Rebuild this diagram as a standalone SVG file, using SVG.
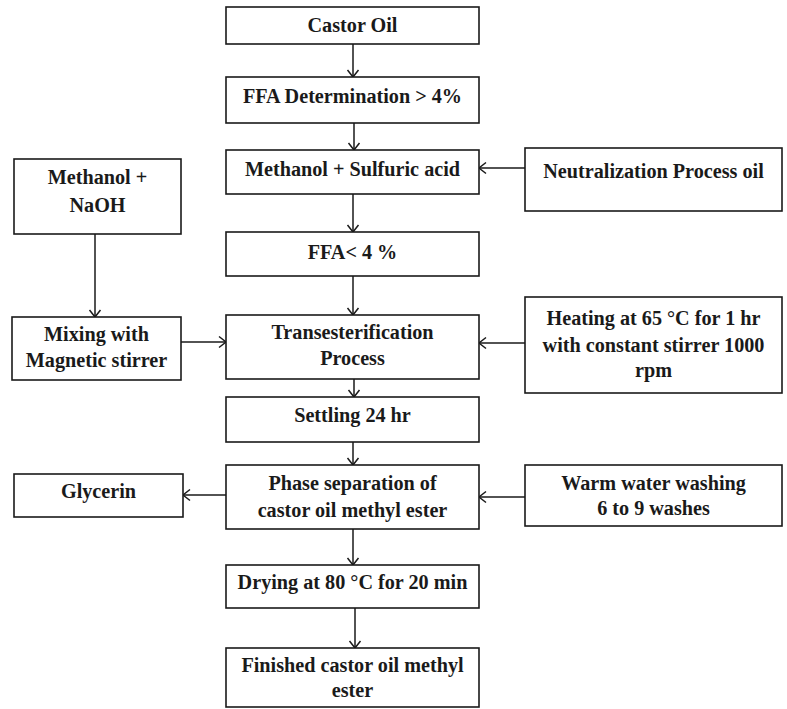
<svg xmlns="http://www.w3.org/2000/svg" width="787" height="709" viewBox="0 0 787 709">
<style>
.box{fill:#fff;stroke:#1a1a1a;stroke-width:1.6}
.t{font-family:"Liberation Serif","Times New Roman",serif;font-weight:bold;font-size:20.2px;fill:#1a1a1a;text-anchor:middle}
.c{fill:none;stroke:#1a1a1a;stroke-width:1.5}
</style>
<defs>
<marker id="ah" markerUnits="userSpaceOnUse" markerWidth="14" markerHeight="14" viewBox="0 0 14 14" refX="12" refY="7" orient="auto">
<path d="M5,1.5 L12,7 L5,12.5" fill="none" stroke="#1a1a1a" stroke-width="1.5"/>
</marker>
</defs>
<rect width="787" height="709" fill="#fff"/>
<g id="connectors">
<line class="c" x1="353" y1="44" x2="353" y2="77" marker-end="url(#ah)"/>
<line class="c" x1="354" y1="123" x2="354" y2="150" marker-end="url(#ah)"/>
<line class="c" x1="353" y1="194" x2="353" y2="232" marker-end="url(#ah)"/>
<line class="c" x1="525" y1="168" x2="479" y2="168" marker-end="url(#ah)"/>
<line class="c" x1="353" y1="276" x2="353" y2="315" marker-end="url(#ah)"/>
<line class="c" x1="95" y1="234" x2="95" y2="317" marker-end="url(#ah)"/>
<line class="c" x1="181" y1="342" x2="226" y2="342" marker-end="url(#ah)"/>
<line class="c" x1="525" y1="343" x2="479" y2="343" marker-end="url(#ah)"/>
<line class="c" x1="354" y1="379" x2="354" y2="397" marker-end="url(#ah)"/>
<line class="c" x1="353" y1="442" x2="353" y2="465" marker-end="url(#ah)"/>
<line class="c" x1="226" y1="495" x2="183" y2="495" marker-end="url(#ah)"/>
<line class="c" x1="525" y1="497" x2="479" y2="497" marker-end="url(#ah)"/>
<line class="c" x1="353" y1="529" x2="353" y2="565" marker-end="url(#ah)"/>
<line class="c" x1="355" y1="608" x2="355" y2="648" marker-end="url(#ah)"/>
</g>
<g id="castor-oil"><rect class="box" x="226" y="7" width="253" height="37"/><text class="t" x="352.5" y="32">Castor Oil</text></g>
<g id="ffa-determination"><rect class="box" x="226" y="77" width="253" height="46"/><text class="t" x="352.5" y="103">FFA Determination &gt; 4%</text></g>
<g id="methanol-sulfuric"><rect class="box" x="226" y="150" width="253" height="44"/><text class="t" x="352.5" y="176">Methanol + Sulfuric acid</text></g>
<g id="neutralization"><rect class="box" x="525" y="148" width="257" height="63"/><text class="t" x="653.5" y="178">Neutralization Process oil</text></g>
<g id="ffa-less"><rect class="box" x="226" y="232" width="253" height="44"/><text class="t" x="352.5" y="259">FFA&lt; 4 %</text></g>
<g id="methanol-naoh"><rect class="box" x="14" y="159" width="167" height="75"/><text class="t" x="97.5" y="184">Methanol +</text><text class="t" x="97.5" y="212">NaOH</text></g>
<g id="mixing"><rect class="box" x="12" y="317" width="169" height="63"/><text class="t" x="96.5" y="341">Mixing with</text><text class="t" x="96.5" y="367">Magnetic stirrer</text></g>
<g id="transesterification"><rect class="box" x="226" y="315" width="253" height="64"/><text class="t" x="352.5" y="339">Transesterification</text><text class="t" x="352.5" y="365">Process</text></g>
<g id="heating"><rect class="box" x="525" y="297" width="257" height="96"/><text class="t" x="653.5" y="325">Heating at 65 °C for 1 hr</text><text class="t" x="653.5" y="352">with constant stirrer 1000</text><text class="t" x="653.5" y="377">rpm</text></g>
<g id="settling"><rect class="box" x="226" y="397" width="253" height="45"/><text class="t" x="352.5" y="422">Settling 24 hr</text></g>
<g id="phase-separation"><rect class="box" x="226" y="465" width="253" height="64"/><text class="t" x="352.5" y="490">Phase separation of</text><text class="t" x="352.5" y="517">castor oil methyl ester</text></g>
<g id="glycerin"><rect class="box" x="14" y="474" width="169" height="43"/><text class="t" x="98.5" y="498">Glycerin</text></g>
<g id="warm-water"><rect class="box" x="525" y="465" width="257" height="61"/><text class="t" x="653.5" y="490">Warm water washing</text><text class="t" x="653.5" y="515">6 to 9 washes</text></g>
<g id="drying"><rect class="box" x="226" y="565" width="253" height="43"/><text class="t" x="352.5" y="589">Drying at 80 °C for 20 min</text></g>
<g id="finished"><rect class="box" x="226" y="648" width="253" height="59"/><text class="t" x="352.5" y="672">Finished castor oil methyl</text><text class="t" x="352.5" y="697">ester</text></g>
</svg>
